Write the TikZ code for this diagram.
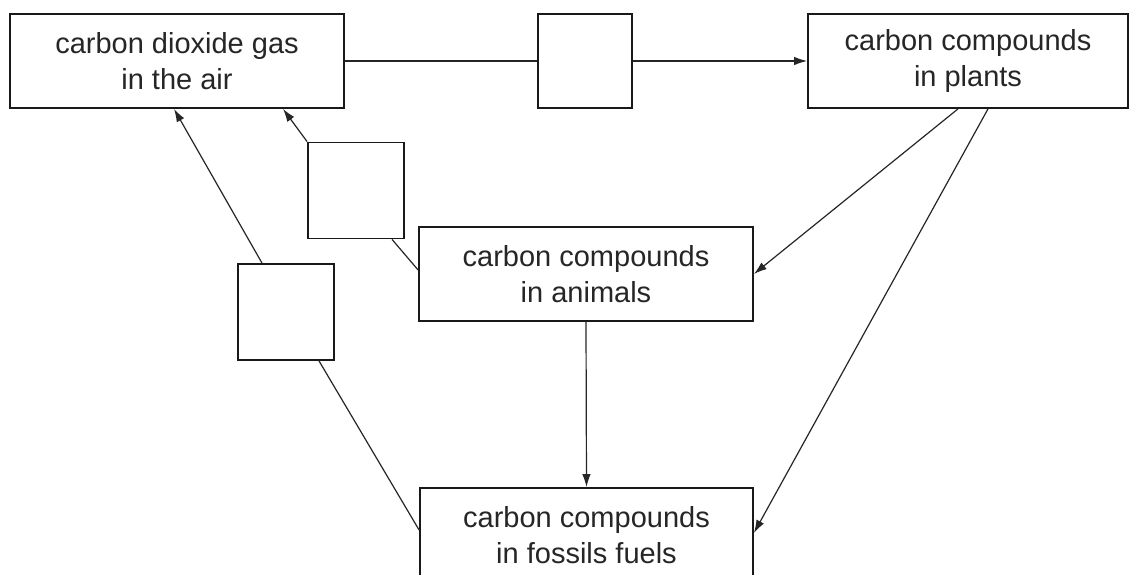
\documentclass[tikz,border=0pt]{standalone}
\usepackage{fontspec}
\setmainfont{Liberation Sans}
\usetikzlibrary{arrows.meta}
\begin{document}
\begin{tikzpicture}[x=1pt,y=1pt,
  box/.style={draw=black!90, line width=1.8pt, fill=white, align=center, inner sep=0pt,
    font=\fontsize{29}{36}\selectfont, text=black!85},
  blank/.style={draw=black!90, line width=1.8pt, fill=white, inner sep=0pt},
  conn/.style={draw=black!85, line width=1.2pt},
  arr/.style={conn, -{Latex[length=13pt,width=8.5pt]}}]
\clip (0,0) rectangle (1133,575);
\fill[white] (0,0) rectangle (1133,575);
\node[box, minimum width=334pt, minimum height=94pt] (air) at (177,514) {carbon dioxide gas\\in the air};
\node[blank, minimum width=94pt, minimum height=94pt] (s1) at (585,514) {};
\node[box, minimum width=320pt, minimum height=94pt] (plants) at (968,514) {carbon compounds\\in plants};
\node[blank, minimum width=96pt, minimum height=96pt] (s2) at (356,384.5) {};
\node[blank, minimum width=96pt, minimum height=96pt] (s3) at (286,263) {};
\node[box, minimum width=334pt, minimum height=94pt] (animals) at (586,301) {carbon compounds\\in animals};
\node[box, minimum width=333pt, minimum height=94pt] (fossils) at (586.5,40) {carbon compounds\\in fossils fuels};
\draw[conn] (air.east) -- (s1.west);
\draw[arr] (s1.east) -- (plants.west);
\draw[arr] ([xshift=-10pt]plants.south) -- (animals.east);
\draw[arr] ([xshift=20pt]plants.south) -- ([yshift=2pt]fossils.east);
\draw[arr] (animals.south) -- (fossils.north);
\draw[conn] ([yshift=5pt]fossils.west) -- ([xshift=33pt]s3.south);
\draw[arr] ([xshift=-24pt]s3.north) -- ([xshift=-3pt]air.south);
\draw[conn] ([yshift=4pt]animals.west) -- ([xshift=36pt]s2.south);
\draw[arr] (s2.north west) -- ([xshift=106pt]air.south);
\end{tikzpicture}
\end{document}
